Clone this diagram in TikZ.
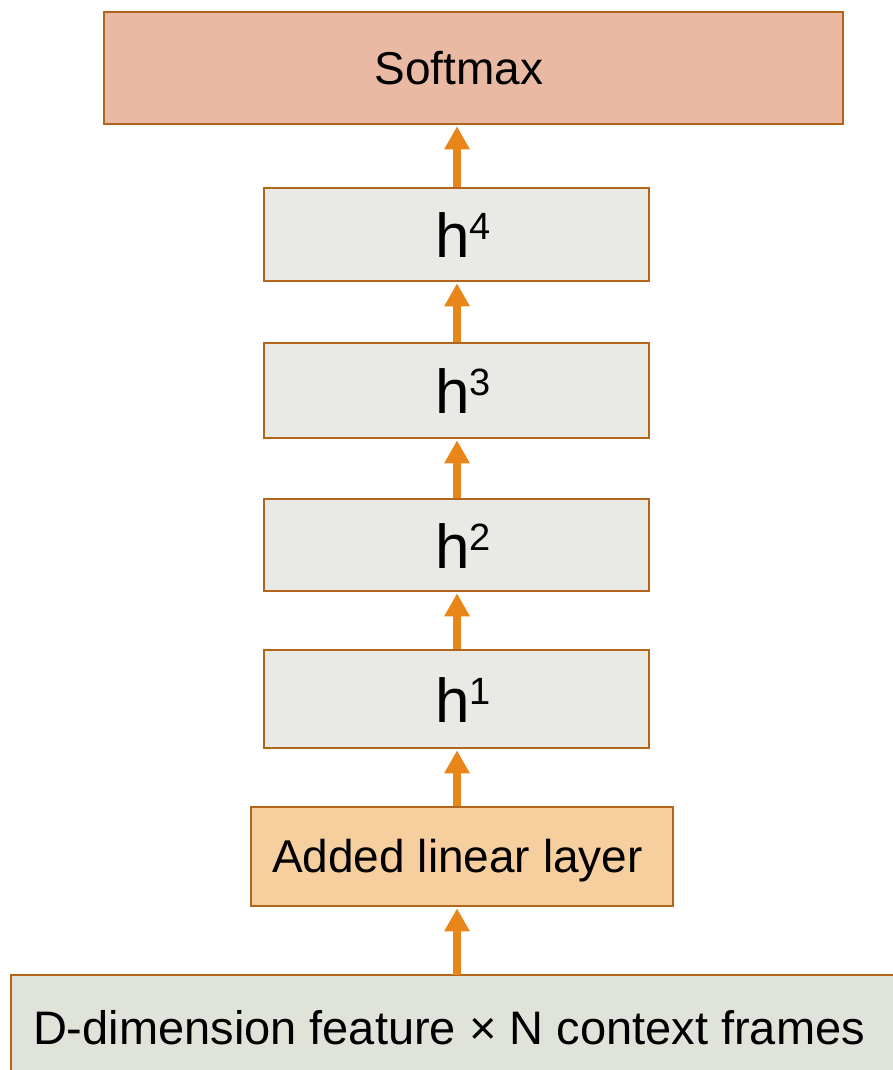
\documentclass[tikz,border=0pt]{standalone}
\usepackage{fontspec}
\setmainfont{Liberation Sans}
\usetikzlibrary{arrows.meta,calc}

\definecolor{boxedge}{HTML}{B2661C}
\definecolor{softfill}{HTML}{EAB9A3}
\definecolor{hidfill}{HTML}{E9EAE5}
\definecolor{linfill}{HTML}{F7CF9F}
\definecolor{infill}{HTML}{E0E3DA}
\definecolor{flow}{HTML}{E8861A}

\newcommand{\hlayer}[1]{\fontsize{62}{66}\selectfont h\raisebox{18pt}{\fontsize{38}{40}\selectfont #1}}

\tikzset{
  layerbox/.style={draw=boxedge, line width=2.5pt, inner sep=0pt, rectangle},
  lbl/.style={anchor=base, inner sep=0pt, text=black},
  flowarrow/.style={draw=flow, line width=8pt,
    -{Triangle[width=24pt,length=23pt]}, shorten >=1pt},
}

\begin{document}
\begin{tikzpicture}[x=1pt,y=-1pt]
\useasboundingbox (0,0) rectangle (893,1070);
\clip (0,0) rectangle (893,1070);

% layer boxes
\node[layerbox, fill=softfill, minimum width=739pt, minimum height=112pt] (soft) at (473.5,68) {};
\node[layerbox, fill=hidfill, minimum width=385pt, minimum height=93pt] (h4) at (456.5,234.5) {};
\node[layerbox, fill=hidfill, minimum width=385pt, minimum height=95pt] (h3) at (456.5,390.5) {};
\node[layerbox, fill=hidfill, minimum width=385pt, minimum height=92pt] (h2) at (456.5,545) {};
\node[layerbox, fill=hidfill, minimum width=385pt, minimum height=98pt] (h1) at (456.5,699) {};
\node[layerbox, fill=linfill, minimum width=422pt, minimum height=99pt] (lin) at (462,856.5) {};
\node[layerbox, fill=infill, minimum width=900pt, minimum height=120pt] (inp) at (461,1035) {};

% labels
\node[lbl] (tsoft) at (459,85) {\fontsize{46}{50}\selectfont Softmax};
\node[lbl] (th4) at (463,257) {\hlayer{4}};
\node[lbl] (th3) at (463,413) {\hlayer{3}};
\node[lbl] (th2) at (463,568) {\hlayer{2}};
\node[lbl] (th1) at (463,722) {\hlayer{1}};
\node[lbl] (tlin) at (457.5,872) {\fontsize{46}{50}\selectfont Added\ linear\ layer};
\node[lbl] (tinp) at (449,1044) {\fontsize{47}{52}\selectfont D-dimension feature × N context frames};

% data flow
\coordinate (ainp) at (457,975);
\coordinate (alin) at (457,906);
\draw[flowarrow] (ainp) -- (alin |- lin.south);
\draw[flowarrow] (alin |- lin.north) -- (alin |- h1.south);
\draw[flowarrow] (alin |- h1.north) -- (alin |- h2.south);
\draw[flowarrow] (alin |- h2.north) -- (alin |- h3.south);
\draw[flowarrow] (alin |- h3.north) -- (alin |- h4.south);
\draw[flowarrow] (alin |- h4.north) -- (alin |- soft.south);
\end{tikzpicture}
\end{document}
